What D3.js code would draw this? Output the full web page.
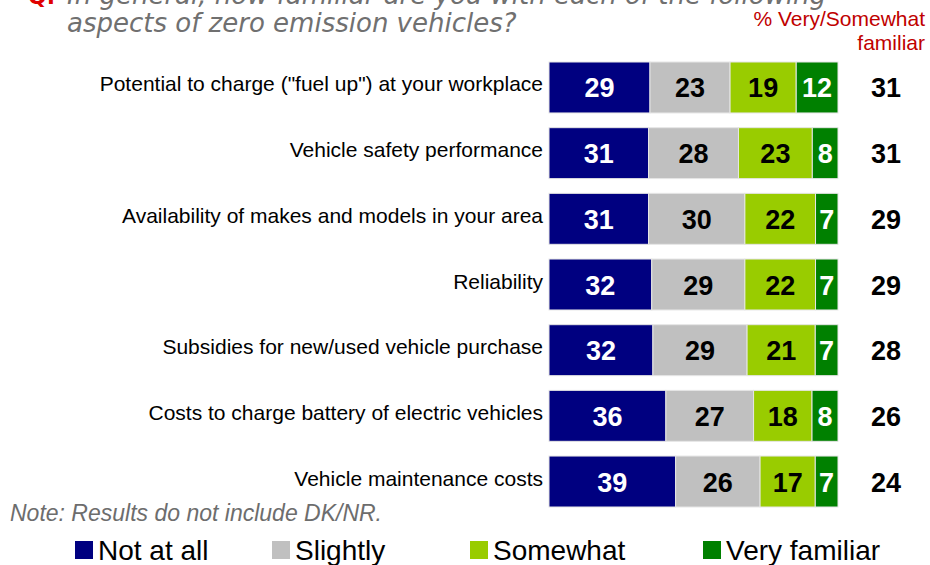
<!DOCTYPE html>
<head>
  <title>ZEV familiarity</title>
  <script src="https://d3js.org/d3.v7.min.js"></script>
  <style>
  body {margin: 0; background: white;}
  #chart {background-color: white;}
  .label {font-family: Arial, "Liberation Sans", sans-serif; font-size: 21px; fill: #000; text-anchor: end;}
  .val {font-family: Arial, "Liberation Sans", sans-serif; font-size: 27px; font-weight: bold; text-anchor: middle;}
  .total {font-family: Arial, "Liberation Sans", sans-serif; font-size: 27px; font-weight: bold; text-anchor: middle; fill: #000;}
  .title {font-family: "DejaVu Sans", sans-serif; font-style: italic; font-size: 26px; fill: #707070; font-weight: 300;}
  .red {font-family: Arial, "Liberation Sans", sans-serif; font-size: 21px; fill: #c00000; text-anchor: end;}
  .note {font-family: Arial, "Liberation Sans", sans-serif; font-style: italic; font-size: 23px; fill: #6d6d6d;}
  .legend {font-family: Arial, "Liberation Sans", sans-serif; font-size: 28px; fill: #000;}
  </style>
</head>
<body>
  <svg id="chart" height="565" width="930"></svg>
  <script>
  var categories = [
    'Potential to charge ("fuel up") at your workplace',
    "Vehicle safety performance",
    "Availability of makes and models in your area",
    "Reliability",
    "Subsidies for new/used vehicle purchase",
    "Costs to charge battery of electric vehicles",
    "Vehicle maintenance costs"
  ];
  var notAtAll = [29, 31, 31, 32, 32, 36, 39];
  var slightly = [23, 28, 30, 29, 29, 27, 26];
  var somewhat = [19, 23, 22, 22, 21, 18, 17];
  var veryFamiliar = [12, 8, 7, 7, 7, 8, 7];
  var totals = [31, 31, 29, 29, 28, 26, 24];
  var seriesNames = ["Not at all", "Slightly", "Somewhat", "Very familiar"];
  var seriesColors = ["#000080", "#c0c0c0", "#99cc00", "#008000"];
  var textColors = ["#fff", "#000", "#000", "#fff"];

  var svg = d3.select("#chart");

  var rows = categories.map(function(c, i) {
    return {name: c, vals: [notAtAll[i], slightly[i], somewhat[i], veryFamiliar[i]], total: totals[i]};
  });

  var y = d3.scaleBand().domain(categories).range([62, 507]).paddingInner(0.224);

  // Title (first line is cut off at top of the slide)
  svg.append("text").attr("x", 28).attr("y", 4)
    .attr("class", "title").style("fill", "#e00000").style("font-weight", "bold").style("font-style", "normal")
    .style("font-size", "22px")
    .text("Q.");
  svg.append("text").attr("x", 67).attr("y", 4).attr("class", "title")
    .text("In general, how familiar are you with each of the following");
  svg.append("text").attr("x", 67).attr("y", 32).attr("class", "title")
    .text("aspects of zero emission vehicles?");

  svg.append("text").attr("x", 925).attr("y", 26).attr("class", "red").text("% Very/Somewhat");
  svg.append("text").attr("x", 925).attr("y", 50).attr("class", "red").text("familiar");

  // Bars, each row normalised to its own sum
  var g = svg.selectAll("g.row").data(rows).enter().append("g").attr("class", "row");

  g.each(function(d) {
    var sum = d3.sum(d.vals);
    var x = d3.scaleLinear().domain([0, sum]).range([549, 838]);
    var stack = [];
    var acc = 0;
    d.vals.forEach(function(v, k) { stack.push({k: k, v: v, x0: acc, x1: acc + v}); acc += v; });
    var row = d3.select(this);
    row.selectAll("rect").data(stack).enter().append("rect")
      .attr("x", function(s) { return x(s.x0); })
      .attr("y", y(d.name))
      .attr("width", function(s) { return x(s.x1) - x(s.x0); })
      .attr("height", y.bandwidth())
      .attr("fill", function(s) { return seriesColors[s.k]; })
      .attr("stroke", "#e6e6e6")
      .attr("stroke-width", 1);
    row.selectAll("text.val").data(stack).enter().append("text")
      .attr("class", "val")
      .attr("x", function(s) { return (x(s.x0) + x(s.x1)) / 2; })
      .attr("y", y(d.name) + y.bandwidth() / 2 + 10)
      .attr("fill", function(s) { return textColors[s.k]; })
      .text(function(s) { return s.v; });
    row.append("text").attr("class", "label")
      .attr("x", 543).attr("y", y(d.name) + y.bandwidth() / 2 + 4)
      .text(d.name);
    row.append("text").attr("class", "total")
      .attr("x", 886).attr("y", y(d.name) + y.bandwidth() / 2 + 10)
      .text(d.total);
  });

  svg.append("text").attr("x", 10).attr("y", 521).attr("class", "note")
    .text("Note: Results do not include DK/NR.");

  // Legend
  var legendX = [75, 272, 470, 703];
  var lg = svg.selectAll("g.leg").data(seriesNames).enter().append("g").attr("class", "leg")
    .attr("transform", function(d, i) { return "translate(" + legendX[i] + ",0)"; });
  lg.append("rect").attr("x", 0).attr("y", 541).attr("width", 18).attr("height", 18)
    .attr("fill", function(d, i) { return seriesColors[i]; });
  lg.append("text").attr("class", "legend").attr("x", 23).attr("y", 560).text(function(d) { return d; });
  </script>
</body>
